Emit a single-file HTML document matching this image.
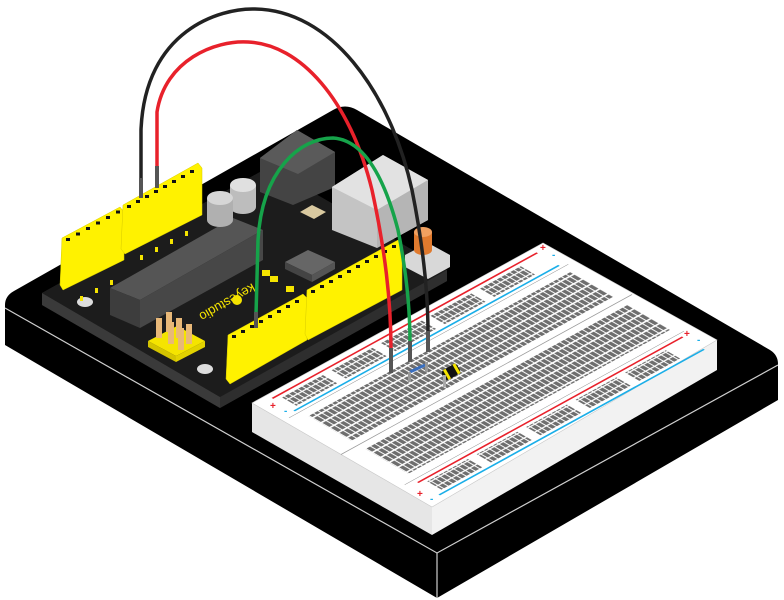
<!DOCTYPE html>
<html><head><meta charset="utf-8"><style>
html,body{margin:0;padding:0;background:#fff;width:784px;height:600px;overflow:hidden}
svg{display:block}
</style></head><body>
<svg width="784" height="600" viewBox="0 0 784 600" xmlns="http://www.w3.org/2000/svg">
<defs>
<pattern id="holes" width="1.55" height="4.8" patternUnits="userSpaceOnUse">
<rect x="0.15" y="0.4" width="1.2" height="3.9" fill="#6e6e6e"/>
</pattern>
<pattern id="rail" width="1.55" height="4" patternUnits="userSpaceOnUse">
<rect x="0.15" y="0.3" width="1.2" height="3.3" fill="#6e6e6e"/>
</pattern>
</defs>

<!-- base plate -->
<path d="M5,305 Q5,296 14,291 L333,110 Q345,103 357,110 L770,350 Q778,355 778,364 L778,400 L437,598 L5,345 Z" fill="#000"/>
<polyline points="5,308 437,553 778,365" fill="none" stroke="#cfcfcf" stroke-width="1.2"/>
<line x1="437" y1="553" x2="437" y2="598" stroke="#cfcfcf" stroke-width="1.2"/>

<!-- arduino board -->
<polygon points="42,293 269,167 447,270 447,281 220,408 42,305" fill="#2a2a2a"/>
<polygon points="42,293 220,397 220,408 42,305" fill="#3a3a3a"/>
<polygon points="220,397 447,270 447,281 220,408" fill="#2e2e2e"/>
<polygon points="42,293 269,167 447,270 220,397" fill="#1c1c1c"/>
<ellipse cx="85" cy="302" rx="8" ry="5" fill="#ddd"/>
<ellipse cx="205" cy="369" rx="8" ry="5" fill="#ddd"/>

<!-- big chip -->
<polygon points="110,288 233,218 263,230 140,300" fill="#555"/>
<polygon points="110,288 140,300 140,328 110,315" fill="#3d3d3d"/>
<polygon points="140,300 263,230 263,260 140,328" fill="#474747"/>

<!-- usb -->
<polygon points="260,158 297,130 335,152 335,187 293,205 260,192" fill="#444"/>
<polygon points="260,158 297,130 335,152 298,174" fill="#5a5a5a"/>
<!-- caps -->
<rect x="230" y="185" width="26" height="22" fill="#bdbdbd"/><ellipse cx="243" cy="207" rx="13" ry="7" fill="#bdbdbd"/><ellipse cx="243" cy="185" rx="13" ry="7" fill="#e0e0e0"/>
<rect x="207" y="198" width="26" height="22" fill="#b0b0b0"/><ellipse cx="220" cy="220" rx="13" ry="7" fill="#b0b0b0"/><ellipse cx="220" cy="198" rx="13" ry="7" fill="#d6d6d6"/>
<!-- jack -->
<polygon points="332,187 383,155 428,180 428,220 377,248 332,230" fill="#c4c4c4"/>
<polygon points="332,187 383,155 428,180 377,210" fill="#e2e2e2"/>
<polygon points="377,210 428,180 428,220 377,248" fill="#b5b5b5"/>
<!-- crystal -->
<polygon points="300,212 312,205 326,212 314,219" fill="#d9c9a0"/>
<!-- small chip -->
<polygon points="285,262 308,250 335,262 312,275" fill="#666"/>
<polygon points="285,262 312,275 312,282 285,269" fill="#444"/>
<polygon points="312,275 335,262 335,269 312,282" fill="#555"/>
<!-- smd -->
<rect x="262" y="270" width="8" height="6" fill="#f5e400"/><rect x="270" y="276" width="8" height="6" fill="#f5e400"/><rect x="286" y="286" width="8" height="6" fill="#f5e400"/>
<!-- button -->
<polygon points="405,255 428,243 450,255 450,267 428,279 405,267" fill="#d8d8d8"/>
<rect x="414" y="232" width="18" height="18" fill="#e07a2e"/><ellipse cx="423" cy="250" rx="9" ry="5" fill="#e07a2e"/><ellipse cx="423" cy="232" rx="9" ry="5" fill="#f0a060"/>
<!-- gold pins -->
<polygon points="148,341 177,326 205,341 176,356" fill="#f5e400"/>
<polygon points="148,341 176,356 176,362 148,347" fill="#d4c400"/>
<polygon points="176,356 205,341 205,347 176,362" fill="#e2d200"/>
<g fill="#e8b878"><rect x="156" y="318" width="6" height="20"/><rect x="166" y="312" width="6" height="20"/><rect x="176" y="318" width="6" height="20"/><rect x="186" y="324" width="6" height="20"/><rect x="168" y="322" width="6" height="22"/><rect x="178" y="328" width="6" height="22"/></g>
<!-- text -->
<text x="252" y="283" transform="rotate(150 252 283)" font-family="Liberation Sans, sans-serif" font-size="13" fill="#f5e400">keyestudio</text>
<circle cx="237" cy="300" r="5" fill="#f5e400"/>
<!-- small labels -->
<g fill="#f5e400"><rect x="80" y="296" width="3" height="5"/><rect x="95" y="288" width="3" height="5"/><rect x="110" y="280" width="3" height="5"/><rect x="140" y="255" width="3" height="5"/><rect x="155" y="247" width="3" height="5"/><rect x="170" y="239" width="3" height="5"/><rect x="185" y="231" width="3" height="5"/></g>

<!-- headers -->
<g fill="#fff200" stroke="#d8cc00" stroke-width="0.5">
<polygon points="62,238 120,207 124,212 124,260 63,290 60,285"/>
<polygon points="123,205 198,163 202,168 202,215 125,254 121,249"/>
<polygon points="228,335 303,294 307,298 307,340 230,384 226,379"/>
<polygon points="307,290 398,240 402,245 402,290 308,340 305,334"/>
</g>
<g fill="#111">
<g transform="translate(66,238)"><rect x="0" y="0" width="4" height="3"/><rect x="10" y="-5.5" width="4" height="3"/><rect x="20" y="-11" width="4" height="3"/><rect x="30" y="-16.5" width="4" height="3"/><rect x="40" y="-22" width="4" height="3"/><rect x="50" y="-27.5" width="4" height="3"/></g>
<g transform="translate(127,205)"><rect x="0" y="0" width="4" height="3"/><rect x="9" y="-5" width="4" height="3"/><rect x="18" y="-10" width="4" height="3"/><rect x="27" y="-15" width="4" height="3"/><rect x="36" y="-20" width="4" height="3"/><rect x="45" y="-25" width="4" height="3"/><rect x="54" y="-30" width="4" height="3"/><rect x="63" y="-35" width="4" height="3"/></g>
<g transform="translate(232,335)"><rect x="0" y="0" width="4" height="3"/><rect x="9" y="-5" width="4" height="3"/><rect x="18" y="-10" width="4" height="3"/><rect x="27" y="-15" width="4" height="3"/><rect x="36" y="-20" width="4" height="3"/><rect x="45" y="-25" width="4" height="3"/><rect x="54" y="-30" width="4" height="3"/><rect x="63" y="-35" width="4" height="3"/></g>
<g transform="translate(311,290)"><rect x="0" y="0" width="4" height="3"/><rect x="9" y="-5" width="4" height="3"/><rect x="18" y="-10" width="4" height="3"/><rect x="27" y="-15" width="4" height="3"/><rect x="36" y="-20" width="4" height="3"/><rect x="45" y="-25" width="4" height="3"/><rect x="54" y="-30" width="4" height="3"/><rect x="63" y="-35" width="4" height="3"/><rect x="72" y="-40" width="4" height="3"/><rect x="81" y="-45" width="4" height="3"/></g>
</g>

<!-- breadboard -->
<polygon points="252,403 432,507 432,535 252,432" fill="#e6e6e6"/>
<polygon points="432,507 717,340 717,370 432,535" fill="#f2f2f2"/>
<polygon points="252,403 543,243 717,340 432,507" fill="#fff" stroke="#ccc" stroke-width="0.6"/>
<g transform="matrix(2.91,-1.60,1.78,1.03,252,403)">
  <line x1="5" y1="3.3" x2="96" y2="3.3" stroke="#e8212b" stroke-width="0.9"/>
  <line x1="5" y1="15.5" x2="96" y2="15.5" stroke="#1aaee8" stroke-width="0.9"/>
  <rect x="7" y="5.5" width="14" height="8" fill="url(#rail)"/>
  <rect x="24" y="5.5" width="14" height="8" fill="url(#rail)"/>
  <rect x="41" y="5.5" width="14" height="8" fill="url(#rail)"/>
  <rect x="58" y="5.5" width="14" height="8" fill="url(#rail)"/>
  <rect x="75" y="5.5" width="14" height="8" fill="url(#rail)"/>
  <line x1="2" y1="17.5" x2="98" y2="17.5" stroke="#888" stroke-width="0.25"/>
  <rect x="6" y="22" width="90" height="24" fill="url(#holes)"/>
  <line x1="0" y1="50" x2="100" y2="50" stroke="#999" stroke-width="0.4"/>
  <rect x="6" y="54" width="90" height="24" fill="url(#holes)"/>
  <line x1="2" y1="82.5" x2="98" y2="82.5" stroke="#888" stroke-width="0.25"/>
  <line x1="5" y1="85" x2="96" y2="85" stroke="#e8212b" stroke-width="0.9"/>
  <line x1="5" y1="97" x2="96" y2="97" stroke="#1aaee8" stroke-width="0.9"/>
  <rect x="7" y="87" width="14" height="8" fill="url(#rail)"/>
  <rect x="24" y="87" width="14" height="8" fill="url(#rail)"/>
  <rect x="41" y="87" width="14" height="8" fill="url(#rail)"/>
  <rect x="58" y="87" width="14" height="8" fill="url(#rail)"/>
  <rect x="75" y="87" width="14" height="8" fill="url(#rail)"/>
</g>
<g font-family="Liberation Sans, sans-serif" font-size="10" font-weight="bold">
<text x="270" y="409" fill="#e8212b">+</text><text x="284" y="414" fill="#1aaee8">-</text>
<text x="540" y="251" fill="#e8212b">+</text><text x="552" y="258" fill="#1aaee8">-</text>
<text x="417" y="497" fill="#e8212b">+</text><text x="430" y="502" fill="#1aaee8">-</text>
<text x="684" y="337" fill="#e8212b">+</text><text x="697" y="343" fill="#1aaee8">-</text>
</g>
<!-- components -->
<line x1="410" y1="372" x2="425" y2="365" stroke="#3a6fbf" stroke-width="3"/>
<rect x="408" y="372" width="3" height="10" fill="#999"/><rect x="425" y="362" width="3" height="10" fill="#999"/>
<g transform="rotate(-30 452 372)"><rect x="442" y="366" width="18" height="11" rx="4" fill="#111"/><rect x="445" y="366" width="3" height="11" fill="#f5e400"/><rect x="456" y="366" width="3" height="11" fill="#f5e400"/></g>
<rect x="443" y="375" width="3" height="12" fill="#aaa"/>

<!-- wires -->
<g fill="none" stroke-width="3.5" stroke-linecap="round">
<path d="M141,180 L141,130 C145,30 220,8 255,9 C330,10 390,90 412,190 C422,240 428,290 428,333" stroke="#222"/>
<path d="M157,168 L157,112 C165,60 215,40 248,42 C300,44 350,100 372,190 C385,250 391,300 391,350" stroke="#e8212b"/>
<path d="M256,315 L258,240 C262,170 300,138 333,138 C365,140 385,180 398,230 C406,270 410,310 410,343" stroke="#16a34a"/>
</g>
<g fill="#555">
<rect x="139" y="178" width="4" height="20"/><rect x="155" y="166" width="4" height="22"/>
<rect x="254" y="312" width="4" height="16"/>
<rect x="389" y="348" width="4" height="25"/><rect x="408" y="341" width="4" height="21"/><rect x="426" y="331" width="4" height="21"/>
</g>
</svg>
</body></html>
